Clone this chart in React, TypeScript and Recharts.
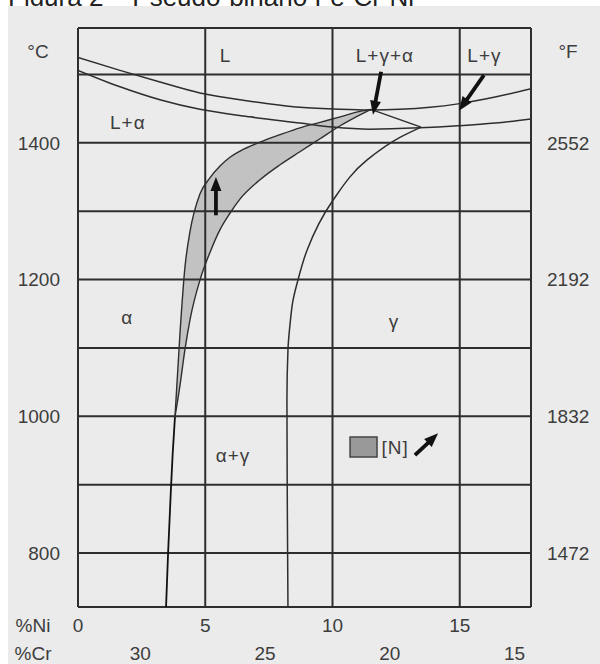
import React from 'react';
import {
  ComposedChart,
  Line,
  Area,
  XAxis,
  YAxis,
  ReferenceLine,
  ReferenceArea,
  ReferenceDot,
} from 'recharts';

// axes
const niDomain = [0, 17.8];
const tempDomain = [721, 1568];
const crDomain = [32.5, 14.34]; // %Cr runs right-to-left
const niTicks = [0, 5, 10, 15];
const crTicks = [30, 25, 20, 15];
const tempTicks = [800, 1000, 1200, 1400];
const fahrTicks = [1472, 1832, 2192, 2552];
const gridTemps = [800, 900, 1000, 1100, 1200, 1300, 1400, 1500];
const gridNi = [5, 10, 15];

// liquidus (upper) / solidus (lower)
const liquidusNi = [0, 1.65, 3.22, 4.79, 6.76, 8.72, 10.3, 11.47, 12.65, 13.83, 14.93, 16.39, 17.8];
const liquidusT = [1525, 1506, 1489, 1473, 1461, 1452, 1449, 1448, 1449, 1452, 1457, 1467, 1479];
const solidusNi = [0, 1.65, 3.22, 4.79, 6.76, 8.72, 10.02, 11.47, 13.44, 14.93, 16.39, 17.8];
const solidusT = [1506, 1482, 1463, 1449, 1438, 1429, 1423, 1420, 1422, 1425, 1429, 1435];

// shaded [N] band: high edge / low edge at the same %Ni
const bandNi = [3.81, 4.01, 4.2, 4.4, 4.79, 5.19, 5.58, 5.97, 6.37, 7.15, 7.94, 8.72, 9.51, 10.3, 11.08, 11.51];
const bandHighT = [999, 1123, 1217, 1270, 1325, 1349, 1366, 1379, 1388, 1401, 1412, 1422, 1430, 1438, 1446, 1449];
const bandLowT = [999, 1046, 1097, 1141, 1199, 1240, 1273, 1297, 1318, 1346, 1368, 1387, 1406, 1425, 1441, 1449];

// alpha / alpha+gamma boundary below the band
const alphaNi = [3.81, 3.72, 3.65, 3.54, 3.46];
const alphaT = [999, 945, 892, 800, 721];

// gamma boundary
const gammaNi = [13.48, 12.65, 11.36, 10.02, 9.0, 8.64, 8.45, 8.33, 8.25, 8.21, 8.22, 8.25];
const gammaT = [1423, 1408, 1375, 1316, 1243, 1199, 1170, 1134, 1097, 1024, 907, 721];

// L+γ+α triangle edge
const triNi = [11.51, 13.48];
const triT = [1449, 1423];

const arrows = [
  { from: [5.42, 1294], to: [5.42, 1350] },
  { from: [11.91, 1504], to: [11.59, 1441] },
  { from: [15.95, 1499], to: [14.97, 1447] },
  { from: [13.24, 943], to: [14.15, 975] },
];

const phaseLabels = [
  { text: 'L', ni: 5.8, t: 1528 },
  { text: 'L+γ+α', ni: 12.06, t: 1528 },
  { text: 'L+γ', ni: 15.97, t: 1528 },
  { text: 'L+α', ni: 1.96, t: 1430 },
  { text: 'α', ni: 1.93, t: 1145 },
  { text: 'γ', ni: 12.42, t: 1138 },
  { text: 'α+γ', ni: 6.09, t: 942 },
  { text: '[N]', ni: 12.46, t: 955 },
];

const legendBox = { ni: [10.69, 11.75], t: [940.5, 969.7] };

const FONT = '"Liberation Sans", Arial, Helvetica, sans-serif';
const INK = '#2e2e2e';
const TEXT = '#3d3d3d';

const toPoints = (xs: number[], ys: number[]) => xs.map((ni, i) => ({ ni, t: ys[i] }));
const bandData = bandNi.map((ni, i) => ({ ni, range: [bandLowT[i], bandHighT[i]] }));
const fahrDomain = tempDomain.map((c) => c * 1.8 + 32);

const Arrow = (props: any) => {
  const { x1, y1, x2, y2 } = props;
  const dx = x2 - x1;
  const dy = y2 - y1;
  const len = Math.hypot(dx, dy) || 1;
  const ux = dx / len;
  const uy = dy / len;
  const head = 14;
  const half = 5.5;
  const bx = x2 - ux * head;
  const by = y2 - uy * head;
  return (
    <g>
      <line x1={x1} y1={y1} x2={bx + ux} y2={by + uy} stroke="#111" strokeWidth={3.8} />
      <polygon
        points={`${x2},${y2} ${bx - uy * half},${by + ux * half} ${bx + uy * half},${by - ux * half}`}
        fill="#111"
      />
    </g>
  );
};

const phaseText = (text: string) => (p: any) => (
  <text
    x={p.cx}
    y={p.cy}
    textAnchor="middle"
    dominantBaseline="central"
    fontSize={19}
    letterSpacing={1}
    fill={TEXT}
    fontFamily={FONT}
  >
    {text}
  </text>
);

const tickStyle = { fill: TEXT, fontSize: 19, fontFamily: FONT };

const CrTick = (props: any) => {
  const { x, y, payload } = props;
  return (
    <text x={x} y={y} dy="0.71em" textAnchor="middle" fontSize={19} fill={TEXT} fontFamily={FONT}>
      {payload.value}
    </text>
  );
};

const abs = (x: number, y: number, text: string) => (
  <div
    style={{
      position: 'absolute',
      left: x,
      top: y,
      transform: 'translate(-50%, -50%)',
      fontFamily: FONT,
      fontSize: 19,
      color: TEXT,
      whiteSpace: 'nowrap',
    }}
  >
    {text}
  </div>
);

export default function App() {
  return (
    <div
      style={{
        position: 'absolute',
        left: 0,
        top: 0,
        width: 600,
        height: 664,
        background: '#fff',
        overflow: 'hidden',
      }}
    >
      {/* title, cut off by the top of the page */}
      <div
        style={{
          position: 'absolute',
          left: 8,
          top: -16,
          fontFamily: FONT,
          fontSize: 26,
          lineHeight: '26px',
          color: '#222',
          whiteSpace: 'nowrap',
        }}
      >
        Figura 2 – Pseudo-binário Fe-Cr-Ni
      </div>
      <div style={{ position: 'absolute', left: 8, top: 6, right: 0, bottom: 0, background: '#ebebeb' }} />

      <div style={{ position: 'absolute', left: 0, top: 0 }}>
        <ComposedChart width={600} height={664} margin={{ top: 28, right: 0, bottom: 0, left: 0 }}>
          <XAxis
            dataKey="ni"
            type="number"
            domain={niDomain}
            ticks={niTicks}
            allowDataOverflow
            interval={0}
            height={30}
            axisLine={false}
            tickLine={false}
            tickSize={0}
            tickMargin={12}
            tick={tickStyle}
          />
          <XAxis
            xAxisId="cr"
            dataKey="cr"
            type="number"
            domain={crDomain}
            ticks={crTicks}
            allowDataOverflow
            interval={0}
            height={27}
            axisLine={false}
            tickLine={false}
            tickSize={0}
            tickMargin={10}
            tick={<CrTick />}
          />
          <YAxis
            type="number"
            domain={tempDomain}
            ticks={tempTicks}
            allowDataOverflow
            interval={0}
            width={78}
            axisLine={false}
            tickLine={false}
            tickSize={0}
            tickMargin={18}
            tick={tickStyle}
          />
          <YAxis
            yAxisId="f"
            orientation="right"
            type="number"
            domain={fahrDomain}
            ticks={fahrTicks}
            allowDataOverflow
            interval={0}
            width={69}
            axisLine={false}
            tickLine={false}
            tickSize={0}
            tickMargin={16}
            tick={tickStyle}
          />

          <Area
            data={bandData}
            dataKey="range"
            type="monotone"
            fill="#c2c2c2"
            fillOpacity={1}
            stroke={INK}
            strokeWidth={1.4}
            dot={false}
            activeDot={false}
            isAnimationActive={false}
          />

          {gridTemps.map((t) => (
            <ReferenceLine key={`h${t}`} y={t} stroke={INK} strokeWidth={2} />
          ))}
          {gridNi.map((n) => (
            <ReferenceLine key={`v${n}`} x={n} stroke={INK} strokeWidth={2} />
          ))}
          <ReferenceLine x={niDomain[0]} stroke={INK} strokeWidth={2} />
          <ReferenceLine x={niDomain[1]} stroke={INK} strokeWidth={2} />
          <ReferenceLine y={tempDomain[0]} stroke={INK} strokeWidth={2} />
          <ReferenceLine y={tempDomain[1]} stroke={INK} strokeWidth={2} />

          <Line data={toPoints(liquidusNi, liquidusT)} dataKey="t" type="monotone" stroke={INK} strokeWidth={1.5} dot={false} activeDot={false} isAnimationActive={false} />
          <Line data={toPoints(solidusNi, solidusT)} dataKey="t" type="monotone" stroke={INK} strokeWidth={1.5} dot={false} activeDot={false} isAnimationActive={false} />
          <Line data={toPoints(alphaNi, alphaT)} dataKey="t" type="monotoneY" stroke="#111" strokeWidth={1.8} dot={false} activeDot={false} isAnimationActive={false} />
          <Line data={toPoints(gammaNi, gammaT)} dataKey="t" type="monotoneY" stroke={INK} strokeWidth={1.5} dot={false} activeDot={false} isAnimationActive={false} />
          <Line data={toPoints(triNi, triT)} dataKey="t" type="linear" stroke={INK} strokeWidth={1.5} dot={false} activeDot={false} isAnimationActive={false} />

          <ReferenceArea
            x1={legendBox.ni[0]}
            x2={legendBox.ni[1]}
            y1={legendBox.t[0]}
            y2={legendBox.t[1]}
            fill="#999"
            fillOpacity={1}
            stroke="#444"
            strokeWidth={1.5}
          />

          {arrows.map((a, i) => (
            <ReferenceLine
              key={`a${i}`}
              segment={[{ x: a.from[0], y: a.from[1] }, { x: a.to[0], y: a.to[1] }]}
              shape={Arrow}
            />
          ))}

          {phaseLabels.map((l) => (
            <ReferenceDot key={l.text} x={l.ni} y={l.t} r={0} shape={phaseText(l.text)} />
          ))}
        </ComposedChart>
      </div>

      {abs(38, 52, '°C')}
      {abs(568, 52, '°F')}
      {abs(33, 626, '%Ni')}
      {abs(33, 654, '%Cr')}
    </div>
  );
}
